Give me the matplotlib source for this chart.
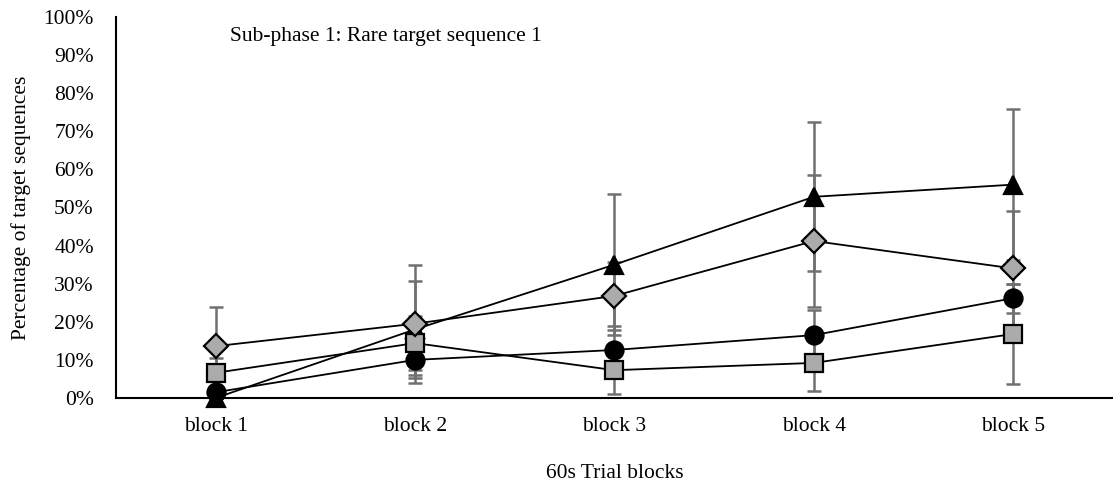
import matplotlib
matplotlib.use('Agg')
import matplotlib.pyplot as plt
import numpy as np

# data (percent)
blocks = ['block 1', 'block 2', 'block 3', 'block 4', 'block 5']
diamond = [13.6, 19.5, 26.8, 41.2, 34.0]
diamond_err = [10.4, 15.5, 9.0, 17.2, 15.0]
square = [6.6, 14.4, 7.3, 9.2, 16.8]
square_err = [4.0, 7.1, 6.3, 7.4, 13.1]
circle = [1.5, 10.0, 12.6, 16.5, 26.2]
circle_err = [1.5, 4.0, 6.4, 6.5, 3.8]
triangle = [0.0, 18.0, 35.0, 52.8, 56.0]
triangle_err = [0.0, 12.7, 18.5, 19.6, 19.8]

plt.rcParams['font.family'] = ['Liberation Serif', 'DejaVu Serif']

fig = plt.figure(figsize=(11.13, 4.95), dpi=100)
ax = fig.add_axes([0.1042, 0.196, 0.8958, 0.7697])

x = np.arange(1, len(blocks) + 1)
# drawn bottom to top
series = [
    (triangle, triangle_err, '^', 'black', 12.5),
    (circle, circle_err, 'o', 'black', 13),
    (square, square_err, 's', '#ababab', 13.5),
    (diamond, diamond_err, 'D', '#ababab', 12.5),
]

# error bars first (behind)
for vals, err, m, fc, ms in series:
    ax.errorbar(x, vals, yerr=err, fmt='none', ecolor='#707070',
                elinewidth=1.8, capsize=5, capthick=1.8, zorder=1,
                clip_on=False)

# lines + markers
for i, (vals, err, m, fc, ms) in enumerate(series):
    ax.plot(x, vals, color='black', lw=1.3, marker=m, ms=ms,
            markerfacecolor=fc, markeredgecolor='black', markeredgewidth=1.6,
            zorder=3 + i, clip_on=False)

ax.set_xlim(0.5, 5.5)
ax.set_ylim(0, 100)
ax.set_xticks(x)
ax.set_xticklabels(blocks)
ax.set_yticks(np.arange(0, 101, 10))
ax.set_yticklabels(['%d%%' % v for v in range(0, 101, 10)])
ax.tick_params(axis='x', length=0, labelsize=15.5, pad=14)
ax.tick_params(axis='y', length=0, labelsize=15.5, pad=16)

for s in ['top', 'right']:
    ax.spines[s].set_visible(False)
for s in ['left', 'bottom']:
    ax.spines[s].set_linewidth(1.5)

ax.set_xlabel('60s Trial blocks', fontsize=15.5, labelpad=20)
ax.set_ylabel('Percentage of target sequences', fontsize=15.5, labelpad=9)
fig.text(230 / 1113, 1 - 36 / 495, 'Sub-phase 1: Rare target sequence 1',
         fontsize=15.5, va='center', ha='left')

fig.savefig('out.png', dpi=100)
